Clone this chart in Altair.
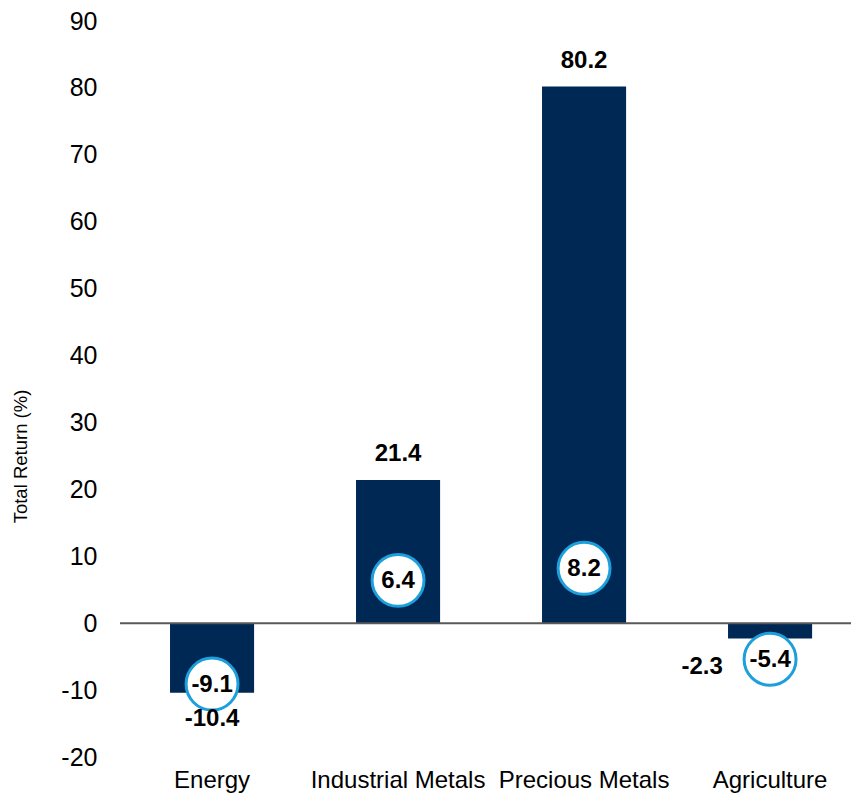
import altair as alt
import pandas as pd

categories = ["Energy", "Industrial Metals", "Precious Metals", "Agriculture"]
returns = [-10.4, 21.4, 80.2, -2.3]
circle_values = [-9.1, 6.4, 8.2, -5.4]
y_ticks = [-20, -10, 0, 10, 20, 30, 40, 50, 60, 70, 80, 90]

df = pd.DataFrame({"cat": categories, "ret": returns, "circ": circle_values})
df["ret_label"] = [f"{v:.1f}" for v in returns]
df["circ_label"] = [f"{v:.1f}" for v in circle_values]

FONT = "Liberation Sans, Arial, sans-serif"
NAVY = "#002855"
BLUE = "#1C9FDB"

x_scale = alt.Scale(paddingInner=0.548, paddingOuter=0.239, align=0.5625)
x_enc = alt.X(
    "cat:N",
    sort=categories,
    title=None,
    scale=x_scale,
    axis=alt.Axis(
        labelAngle=0, domain=False, ticks=False, labelPadding=11,
        labelFontSize=24, labelFont=FONT, labelColor="#000000",
    ),
)
x_plain = alt.X("cat:N", sort=categories, scale=x_scale)
y_scale = alt.Scale(domain=[-20, 90], nice=False, zero=False)

base = alt.Chart(df)

bars = base.mark_bar(color=NAVY).encode(
    x=x_enc,
    y=alt.Y(
        "ret:Q",
        scale=y_scale,
        title="Total Return (%)",
        axis=alt.Axis(
            values=y_ticks, grid=False, domain=False, ticks=False,
            labelExpr="'' + datum.value",
            labelPadding=23, labelFontSize=25, labelFont=FONT, labelColor="#000000",
            titleFont=FONT,
            titleFontSize=18.5, titleFontWeight="normal", titleColor="#000000",
            titleX=-94, titleY=435, titleAngle=-90, titleAlign="center",
            titleBaseline="alphabetic",
        ),
    ),
    y2=alt.datum(0),
)

zero_rule = alt.Chart(pd.DataFrame({"z": [0]})).mark_rule(
    color="#595959", strokeWidth=2
).encode(y=alt.Y("z:Q", scale=y_scale))

text_style = dict(font=FONT, fontSize=24, fontWeight="bold", color="#000000", baseline="middle")

pos_labels = base.transform_filter("datum.ret > 0").mark_text(dy=-26, **text_style).encode(
    x=x_plain, y=alt.Y("ret:Q", scale=y_scale), text="ret_label:N"
)

neg_labels = base.transform_filter("datum.cat == 'Energy'").mark_text(dy=26, **text_style).encode(
    x=x_plain, y=alt.Y("ret:Q", scale=y_scale), text="ret_label:N"
)

agri_label = base.transform_filter("datum.cat == 'Agriculture'").mark_text(dx=-68, dy=28, **text_style).encode(
    x=x_plain, y=alt.Y("ret:Q", scale=y_scale), text="ret_label:N"
)

circles = base.mark_point(
    shape="circle", filled=False, fill="#FFFFFF", fillOpacity=1,
    stroke=BLUE, strokeWidth=3, opacity=1, size=2700,
).encode(x=x_plain, y=alt.Y("circ:Q", scale=y_scale))

circle_text = base.mark_text(dy=1, **text_style).encode(
    x=x_plain, y=alt.Y("circ:Q", scale=y_scale), text="circ_label:N"
)

chart = alt.layer(
    bars, zero_rule, circles, circle_text, pos_labels, neg_labels, agri_label
).properties(
    width=731, height=736,
    autosize=alt.AutoSizeParams(type="none"),
    padding={"left": 112, "top": 13, "right": 0, "bottom": 37},
).configure_view(stroke=None)

chart.save("out.html", embed_options={"renderer": "svg", "actions": False})
